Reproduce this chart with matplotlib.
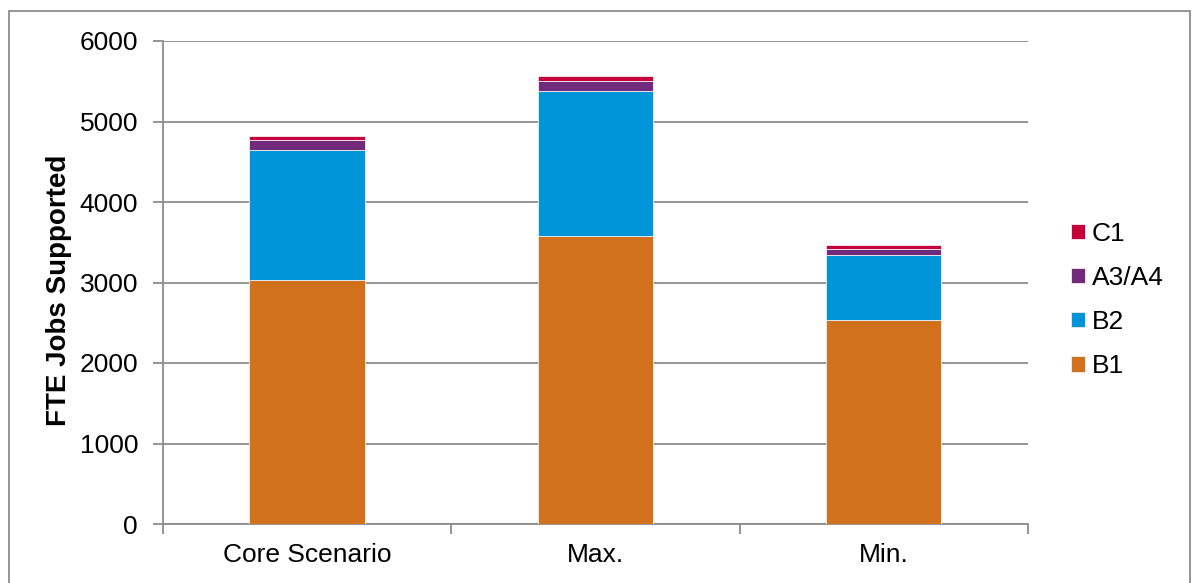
import matplotlib
matplotlib.use('Agg')
import matplotlib.pyplot as plt
from matplotlib.patches import Rectangle
import numpy as np

categories = ['Core Scenario', 'Max.', 'Min.']
b1 = [3030, 3578, 2534]
b2 = [1615, 1797, 808]
a3a4 = [120, 124, 70]
c1 = [55, 62, 58]
y_ticks = [0, 1000, 2000, 3000, 4000, 5000, 6000]

plt.rcParams['font.family'] = ['Liberation Sans', 'DejaVu Sans']
plt.rcParams['font.size'] = 19

fig = plt.figure(figsize=(11.95, 5.83), dpi=100)
ax = fig.add_axes([163 / 1195, 59 / 583, 865 / 1195, 483 / 583])

# outer frame
fig.patches.append(Rectangle((9 / 1195, -0.05), 1181 / 1195, 1 - 11 / 583 + 0.05,
                             transform=fig.transFigure, fill=False,
                             edgecolor='#8c8c8c', linewidth=1.3))

x = np.arange(len(categories))
w = 0.4
series = [('B1', b1, '#D2711C'), ('B2', b2, '#0094D8'),
          ('A3/A4', a3a4, '#722A7C'), ('C1', c1, '#C8003C')]
bottom = np.zeros(len(categories))
handles = []
for name, vals, col in series:
    h = ax.bar(x, vals, w, bottom=bottom, color=col, edgecolor='#f0f0f0',
               linewidth=0.6, label=name, zorder=3)
    handles.append(h)
    bottom += np.array(vals)

ax.set_xlim(-0.5, 2.5)
ax.set_ylim(0, 6000)
ax.set_yticks(y_ticks)
ax.set_xticks(x)
ax.set_xticklabels(categories)
ax.set_xticks([-0.5, 0.5, 1.5, 2.5], minor=True)
ax.tick_params(axis='x', which='major', length=0, pad=14)
ax.tick_params(axis='x', which='minor', length=7, width=1.3, color='#8c8c8c')
ax.tick_params(axis='y', length=7, width=1.3, color='#8c8c8c', pad=11)

ax.grid(axis='y', color='#8c8c8c', linewidth=1.3, zorder=0)
ax.set_axisbelow(True)
for s in ['top', 'right']:
    ax.spines[s].set_visible(False)
for s in ['left', 'bottom']:
    ax.spines[s].set_color('#8c8c8c')
    ax.spines[s].set_linewidth(1.3)

ax.set_ylabel('FTE Jobs Supported', fontweight='bold', fontsize=20)
ax.yaxis.set_label_coords(-0.105, 0.484)

ax.legend(handles[::-1], [s[0] for s in series][::-1], frameon=False,
          loc='center left', bbox_to_anchor=((1071 - 163) / 865, (524 - 300) / 483),
          borderpad=0, borderaxespad=0,
          handlelength=0.53, handleheight=0.53, handletextpad=0.25,
          labelspacing=0.76)

fig.savefig('out.png', dpi=100)
